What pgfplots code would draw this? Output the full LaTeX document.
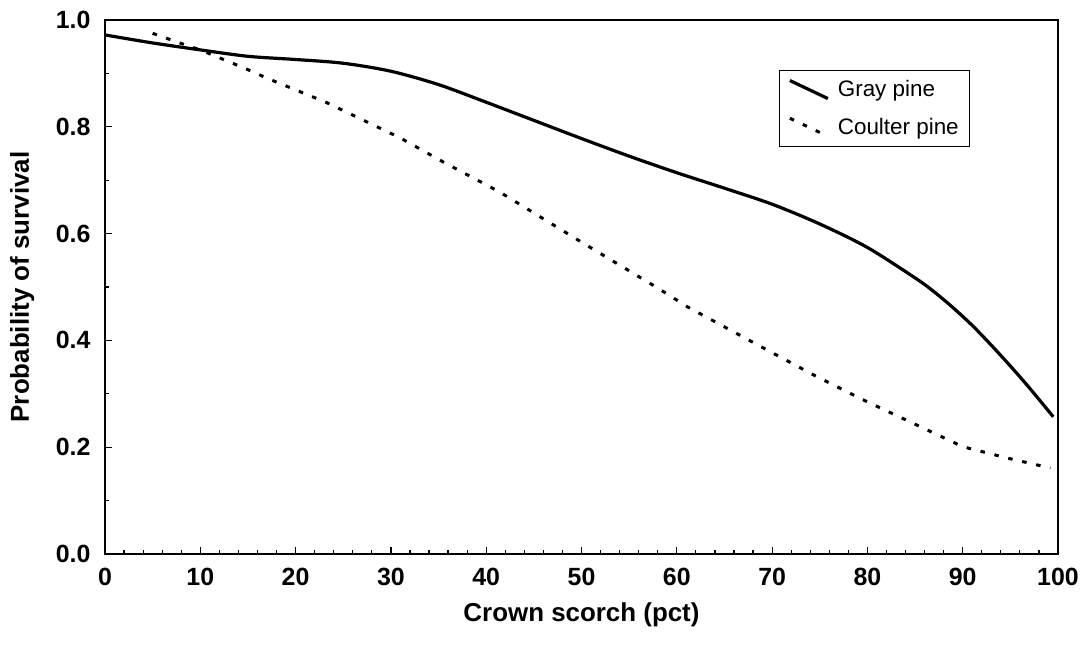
\documentclass[border=0pt]{standalone}
\usepackage{pgfplots}
\pgfplotsset{compat=1.18}
\usepackage{fontspec}
\setmainfont{Liberation Sans}
\begin{document}
\begin{tikzpicture}[x=1bp,y=1bp]
\path[use as bounding box] (-105,-91) rectangle (981,554);
\begin{axis}[
  scale only axis,
  width=953bp, height=534bp,
  xmin=0, xmax=100, ymin=0, ymax=1,
  xtick={0,10,...,100},
  ytick={0,0.2,...,1.0},
  minor x tick num=4,
  minor y tick num=1,
  tick pos=left,
  tick align=inside,
  major tick length=7bp,
  minor tick length=4bp,
  axis line style={line width=1.5bp},
  every tick/.style={line width=1.2bp,black},
  tick label style={font=\bfseries\fontsize{25}{28}\selectfont},
  /pgf/number format/assume math mode=true,
  yticklabel style={/pgf/number format/fixed,/pgf/number format/fixed zerofill,/pgf/number format/precision=1, xshift=-11bp},
  xticklabel style={yshift=-11bp},
  xlabel={Crown scorch (pct)},
  ylabel={Probability of survival},
  label style={font=\bfseries\fontsize{26}{30}\selectfont},
  xlabel style={at={(axis description cs:0.5,-0.114)}, anchor=center},
  ylabel style={at={(axis description cs:-0.087,0.5)}, anchor=center},
  legend style={at={(0.707,0.906)}, anchor=north west, draw=black, line width=1bp,
    font=\fontsize{22.5}{26}\selectfont, inner xsep=9bp, inner ysep=8bp,
    row sep=16bp, cells={anchor=west}},
  legend image code/.code={\draw[#1] (0bp,9bp) -- (38bp,-9bp); \path[draw=none] (0bp,0bp) -- (46bp,0bp);},
]
\addplot[black, line width=3.2bp, smooth] coordinates {
(0,0.972) (5,0.957) (10,0.944) (15,0.932) (20,0.926) (25,0.919) (30,0.904)
(35,0.879) (40,0.846) (45,0.812) (50,0.778) (55,0.745) (60,0.714) (65,0.685)
(70,0.655) (75,0.618) (80,0.574) (85,0.517) (87,0.491) (89,0.461) (91,0.428)
(93,0.391) (95,0.352) (97,0.311) (99.5,0.257)
};
\addlegendentry{Gray pine}
\addplot[black, line width=3bp, dash pattern=on 4.5bp off 9.8bp] coordinates {
(5,0.975) (8,0.956) (10,0.944) (15,0.907) (17,0.891) (23.3,0.845) (31,0.779)
(35.4,0.735) (41.4,0.678) (50,0.584) (58,0.498) (61.1,0.463) (70,0.377)
(74.7,0.332) (79.4,0.290) (85,0.243) (90,0.201) (94.6,0.180) (99.2,0.161)
};
\addlegendentry{Coulter pine}
\end{axis}
\end{tikzpicture}
\end{document}
